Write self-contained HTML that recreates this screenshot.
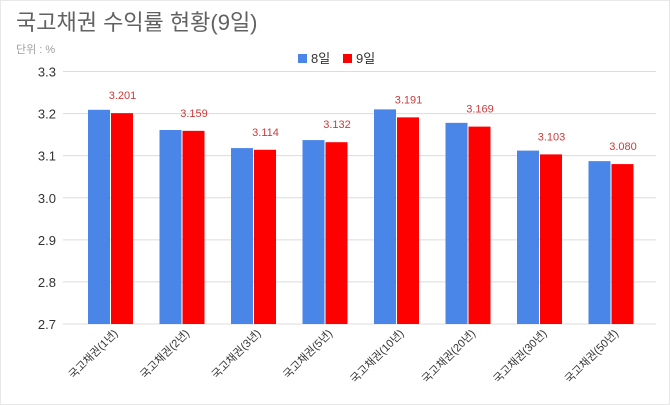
<!DOCTYPE html>
<html><head><meta charset="utf-8"><style>
body{margin:0;background:#fff}
svg{display:block;font-family:"Liberation Sans","Noto Sans CJK KR",sans-serif}
</style></head><body>
<svg width="670" height="405">
<rect x="0.5" y="0.5" width="669" height="404" fill="#fff" stroke="#e8e8e8"/>
<text x="16" y="30" font-size="22" fill="#616161">국고채권 수익률 현황(9일)</text>
<text x="16" y="53" font-size="11" fill="#9e9e9e">단위 : %</text>
<g>
<rect x="298" y="54" width="9" height="9" fill="#4a86e8"/>
<text x="311" y="63" font-size="13" fill="#333">8일</text>
<rect x="343" y="54" width="9" height="9" fill="#ff0000"/>
<text x="356" y="63" font-size="13" fill="#333">9일</text>
</g>
<g id="grid"></g><g id="bars"></g><g id="labels"></g>
</svg>
<script>
const categories=["국고채권(1년)","국고채권(2년)","국고채권(3년)","국고채권(5년)","국고채권(10년)","국고채권(20년)","국고채권(30년)","국고채권(50년)"];
const day8=[3.209,3.161,3.118,3.137,3.210,3.178,3.112,3.087];
const day9=[3.201,3.159,3.114,3.132,3.191,3.169,3.103,3.080];
const ticks=[2.7,2.8,2.9,3.0,3.1,3.2,3.3];
const NS="http://www.w3.org/2000/svg";
const y0=324,y1=71.5,vmin=2.7,vmax=3.3,left=63,right=656;
const y=v=>y0-(v-vmin)/(vmax-vmin)*(y0-y1);
const step=(right-left)/categories.length;
const cx=i=>left+47.5+i*71.5*(step/74.125)*(74.125/step);
function mk(t,a,p){const e=document.createElementNS(NS,t);for(const k in a)e.setAttribute(k,a[k]);p.appendChild(e);return e;}
const g=document.getElementById('grid'),b=document.getElementById('bars'),l=document.getElementById('labels');
ticks.forEach(t=>{
 const ln=mk('line',{x1:left,x2:right,y1:y(t),y2:y(t),stroke:'#dcdcdc','stroke-width':1},g);
 
 
 const tx=mk('text',{x:56,y:y(t)+5,'text-anchor':'end','font-size':13,fill:'#333'},g);
 tx.textContent=t.toFixed(1);
 
 
});
categories.forEach((c,i)=>{
 const x=cx(i);
 const r1=mk('rect',{x:x-22.5,y:y(day8[i]),width:22,height:y0-y(day8[i]),fill:'#4a86e8'},b);
 
 
 const r2=mk('rect',{x:x+0.5,y:y(day9[i]),width:22,height:y0-y(day9[i]),fill:'#ff0000'},b);
 
 
 const v=mk('text',{x:x+12,y:y(day9[i])-14,'text-anchor':'middle','font-size':11,fill:'#cc3a3a'},l);
 v.textContent=day9[i].toFixed(3);
 
 
 const ct=mk('text',{x:x+8,y:334,'text-anchor':'end','font-size':11,fill:'#333',transform:`rotate(-45 ${x+8} 334)`},l);
 ct.textContent=c;
 
 
});
</script>
</body></html>
